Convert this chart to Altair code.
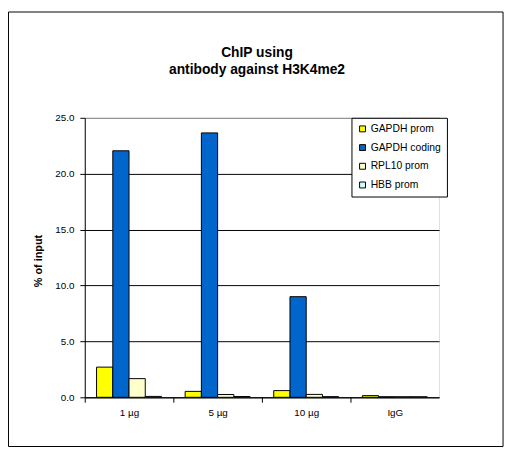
import altair as alt
import pandas as pd

doses = ["1 µg", "5 µg", "10 µg", "IgG"]
series = ["GAPDH prom", "GAPDH coding", "RPL10 prom", "HBB prom"]
gapdh_prom = [2.7, 0.53, 0.6, 0.15]
gapdh_coding = [22.05, 23.65, 9.0, 0.05]
rpl10_prom = [1.67, 0.25, 0.26, 0.05]
hbb_prom = [0.08, 0.07, 0.06, 0.05]
colors = ["#FFFF00", "#0066CC", "#FFFFCC", "#CCFFFF"]
y_ticks = [0, 5, 10, 15, 20, 25]

rows = []
for s, vals in zip(series, [gapdh_prom, gapdh_coding, rpl10_prom, hbb_prom]):
    for d, v in zip(doses, vals):
        rows.append({"dose": d, "series": s, "value": v})
df = pd.DataFrame(rows)

FONT = "Liberation Sans"

bars = alt.Chart(df).mark_bar(stroke="black", strokeWidth=1).encode(
    x=alt.X(
        "dose:N",
        sort=doses,
        scale=alt.Scale(paddingInner=0.267, paddingOuter=0.133),
        axis=alt.Axis(
            title=None, labelAngle=0, tickOffset=-45, labelOffset=45,
            grid=False, tickSize=5, labelPadding=5,
            domainColor="black", tickColor="black",
        ),
    ),
    xOffset=alt.XOffset("series:N", sort=series,
                        scale=alt.Scale(paddingInner=0, paddingOuter=0)),
    y=alt.Y(
        "value:Q",
        scale=alt.Scale(domain=[0, 25], nice=False),
        axis=alt.Axis(
            values=y_ticks, format=".1f", title="% of input",
            titleX=-42, titleY=145, titleFontWeight="bold", titleFontSize=11,
            titleFont=FONT, titleColor="black",
            grid=True,
            gridColor={"condition": {"test": "datum.value === 25", "value": "#808080"}, "value": "black"},
            tickSize=5, labelPadding=6, domainColor="black", tickColor="black",
        ),
    ),
    color=alt.Color(
        "series:N",
        sort=series,
        scale=alt.Scale(domain=series, range=colors),
        legend=alt.Legend(
            title=None, orient="none", legendX=271, legendY=0,
            strokeColor="black", fillColor="white", padding=6,
            symbolType="square", symbolSize=36, symbolStrokeColor="black",
            symbolStrokeWidth=1, labelFont=FONT, labelFontSize=10.5,
            labelColor="black", labelOffset=3, rowPadding=8,
        ),
    ),
)

frame = alt.Chart(pd.DataFrame({"a": [0]})).mark_rect(
    filled=False, stroke="black", strokeWidth=1
).encode(
    x=alt.value(-77.5), x2=alt.value(425), y=alt.value(-107.5), y2=alt.value(334)
)

chart = alt.layer(bars, frame).properties(
    width=360,
    height=284,
    autosize=alt.AutoSizeParams(type="none"),
    padding={"left": 78, "top": 108, "right": 67, "bottom": 52},
    title=alt.TitleParams(
        ["ChIP using", "antibody against H3K4me2"],
        font=FONT, fontSize=14, fontWeight="bold", anchor="middle",
        dx=-5, dy=66, offset=0, lineHeight=17, color="black",
    ),
).configure_view(stroke="#808080", strokeWidth=1).configure_axis(
    labelFont=FONT, labelFontSize=11, labelColor="black"
).configure(background="white")

chart.save("out.html", embed_options={"renderer": "svg", "actions": False})
